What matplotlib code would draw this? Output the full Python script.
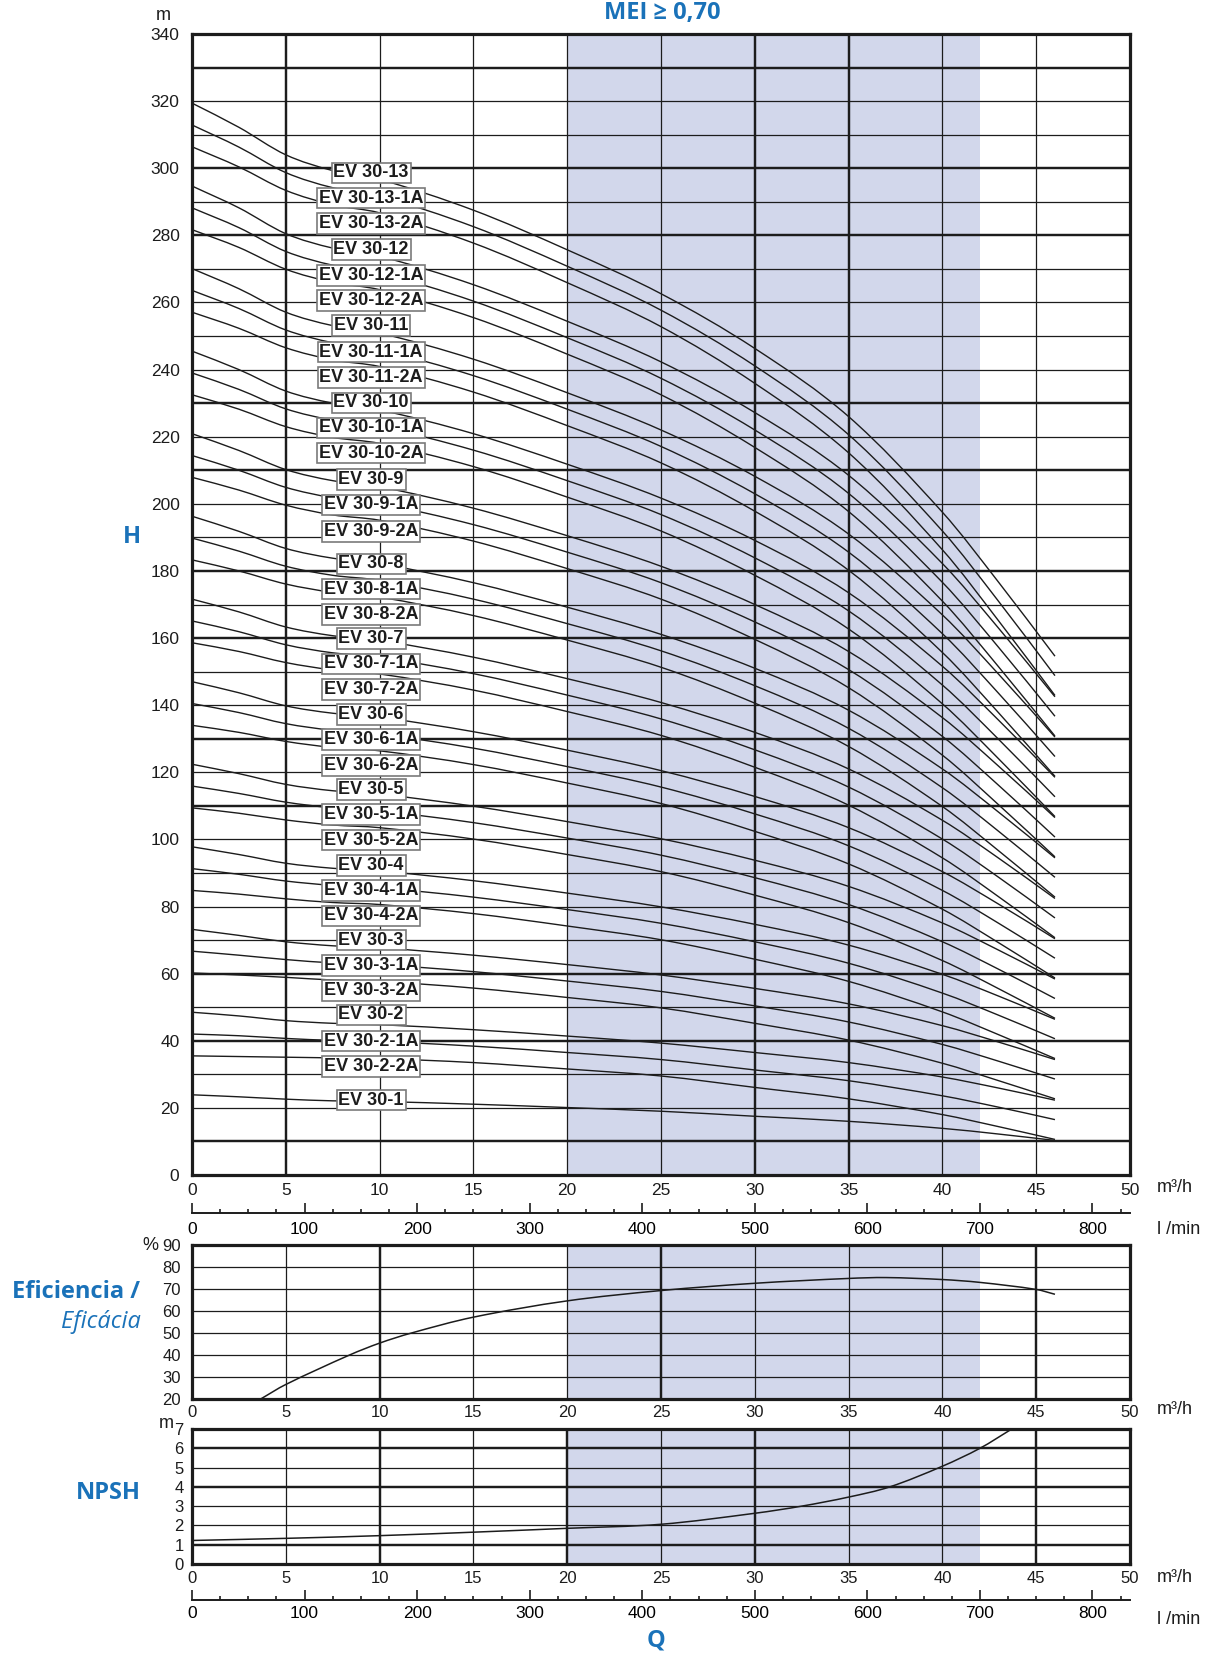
import numpy as np
import matplotlib.pyplot as plt
from matplotlib.path import Path
from matplotlib.patches import PathPatch

plt.rcParams['font.family'] = ['Liberation Sans', 'DejaVu Sans']

# --- data ---
# flow points (m3/h) at which every H curve was read
q_curve = [0, 2.5, 5, 7.5, 10, 15, 20, 25, 30, 35, 40, 43, 46]

curve_names = [
    'EV 30-13', 'EV 30-13-1A', 'EV 30-13-2A',
    'EV 30-12', 'EV 30-12-1A', 'EV 30-12-2A',
    'EV 30-11', 'EV 30-11-1A', 'EV 30-11-2A',
    'EV 30-10', 'EV 30-10-1A', 'EV 30-10-2A',
    'EV 30-9', 'EV 30-9-1A', 'EV 30-9-2A',
    'EV 30-8', 'EV 30-8-1A', 'EV 30-8-2A',
    'EV 30-7', 'EV 30-7-1A', 'EV 30-7-2A',
    'EV 30-6', 'EV 30-6-1A', 'EV 30-6-2A',
    'EV 30-5', 'EV 30-5-1A', 'EV 30-5-2A',
    'EV 30-4', 'EV 30-4-1A', 'EV 30-4-2A',
    'EV 30-3', 'EV 30-3-1A', 'EV 30-3-2A',
    'EV 30-2', 'EV 30-2-1A', 'EV 30-2-2A',
    'EV 30-1',
]

# head (m) of each curve at q_curve
head_curves = [
    [319.4, 312.2, 304.0, 299.3, 296.7, 287.5, 275.7, 262.6, 246.3, 226.0, 197.5, 176.6, 154.6],
    [312.9, 306.3, 298.7, 294.2, 291.7, 282.6, 270.8, 257.7, 241.1, 220.6, 191.9, 170.9, 148.8],
    [306.4, 300.4, 293.4, 289.1, 286.7, 277.7, 265.9, 252.8, 235.9, 215.2, 186.3, 165.1, 142.9],
    [294.7, 288.2, 280.5, 276.2, 273.8, 265.3, 254.4, 242.3, 227.2, 208.5, 182.2, 162.9, 142.5],
    [288.2, 282.3, 275.2, 271.1, 268.8, 260.4, 249.5, 237.4, 222.0, 203.1, 176.6, 157.2, 136.7],
    [281.7, 276.4, 269.9, 266.0, 263.8, 255.5, 244.6, 232.5, 216.8, 197.7, 171.0, 151.4, 130.8],
    [270.1, 264.1, 257.1, 253.1, 250.9, 243.1, 233.1, 222.0, 208.2, 191.0, 166.9, 149.2, 130.5],
    [263.6, 258.2, 251.8, 248.0, 245.9, 238.2, 228.2, 217.1, 203.0, 185.6, 161.3, 143.5, 124.7],
    [257.1, 252.3, 246.5, 242.9, 240.9, 233.3, 223.3, 212.2, 197.8, 180.2, 155.7, 137.7, 118.8],
    [245.5, 240.0, 233.6, 230.0, 228.0, 220.9, 211.8, 201.7, 189.1, 173.5, 151.6, 135.5, 118.5],
    [239.0, 234.1, 228.3, 224.9, 223.0, 216.0, 206.9, 196.8, 183.9, 168.1, 146.0, 129.8, 112.7],
    [232.5, 228.2, 223.0, 219.8, 218.0, 211.1, 202.0, 191.9, 178.7, 162.7, 140.4, 124.0, 106.8],
    [220.9, 215.9, 210.2, 206.9, 205.1, 198.7, 190.5, 181.4, 170.0, 156.0, 136.3, 121.8, 106.5],
    [214.4, 210.0, 204.9, 201.8, 200.1, 193.8, 185.6, 176.5, 164.8, 150.6, 130.7, 116.1, 100.7],
    [207.9, 204.1, 199.6, 196.7, 195.1, 188.9, 180.7, 171.6, 159.6, 145.2, 125.1, 110.3, 94.8],
    [196.3, 191.8, 186.7, 183.8, 182.2, 176.5, 169.2, 161.1, 151.0, 138.5, 121.0, 108.1, 94.5],
    [189.8, 185.9, 181.4, 178.7, 177.2, 171.6, 164.3, 156.2, 145.8, 133.1, 115.4, 102.4, 88.7],
    [183.3, 180.0, 176.1, 173.6, 172.2, 166.7, 159.4, 151.3, 140.6, 127.7, 109.8, 96.6, 82.8],
    [171.6, 167.8, 163.3, 160.7, 159.3, 154.3, 147.9, 140.8, 131.9, 121.0, 105.7, 94.4, 82.4],
    [165.1, 161.9, 158.0, 155.6, 154.3, 149.4, 143.0, 135.9, 126.7, 115.6, 100.1, 88.7, 76.6],
    [158.6, 156.0, 152.7, 150.5, 149.3, 144.5, 138.1, 131.0, 121.5, 110.2, 94.5, 82.9, 70.7],
    [147.0, 143.7, 139.8, 137.6, 136.4, 132.1, 126.6, 120.5, 112.8, 103.5, 90.4, 80.7, 70.4],
    [140.5, 137.8, 134.5, 132.5, 131.4, 127.2, 121.7, 115.6, 107.6, 98.1, 84.8, 75.0, 64.6],
    [134.0, 131.9, 129.2, 127.4, 126.4, 122.3, 116.8, 110.7, 102.4, 92.7, 79.2, 69.2, 58.7],
    [122.4, 119.6, 116.4, 114.5, 113.5, 109.9, 105.3, 100.2, 93.8, 86.0, 75.1, 67.0, 58.4],
    [115.9, 113.7, 111.1, 109.4, 108.5, 105.0, 100.4, 95.3, 88.6, 80.6, 69.5, 61.3, 52.6],
    [109.4, 107.8, 105.8, 104.3, 103.5, 100.1, 95.5, 90.4, 83.4, 75.2, 63.9, 55.5, 46.7],
    [97.8, 95.5, 92.9, 91.4, 90.6, 87.7, 84.0, 79.9, 74.7, 68.5, 59.8, 53.3, 46.4],
    [91.3, 89.6, 87.6, 86.3, 85.6, 82.8, 79.1, 75.0, 69.5, 63.1, 54.2, 47.6, 40.6],
    [84.8, 83.7, 82.3, 81.2, 80.6, 77.9, 74.2, 70.1, 64.3, 57.7, 48.6, 41.8, 34.7],
    [73.2, 71.4, 69.5, 68.3, 67.7, 65.5, 62.7, 59.6, 55.6, 51.0, 44.5, 39.6, 34.4],
    [66.7, 65.5, 64.2, 63.2, 62.7, 60.6, 57.8, 54.7, 50.4, 45.6, 38.9, 33.9, 28.6],
    [60.2, 59.6, 58.9, 58.1, 57.7, 55.7, 52.9, 49.8, 45.2, 40.2, 33.3, 28.1, 22.7],
    [48.5, 47.4, 46.0, 45.2, 44.8, 43.3, 41.4, 39.3, 36.5, 33.5, 29.2, 25.9, 22.3],
    [42.0, 41.5, 40.7, 40.1, 39.8, 38.4, 36.5, 34.4, 31.3, 28.1, 23.6, 20.2, 16.5],
    [35.5, 35.3, 35.1, 34.9, 34.7, 33.5, 31.6, 29.5, 26.1, 22.7, 18.0, 14.4, 10.6],
    [23.9, 23.3, 22.6, 22.1, 21.9, 21.1, 20.1, 19.0, 17.5, 16.0, 13.9, 12.2, 10.3],
]

# where the name boxes sit (m)
label_heads = [298.6, 291.1, 283.5, 275.7, 268.1, 260.6, 253.1, 245.2, 237.7,
               230.1, 222.6, 215.1, 207.2, 199.7, 191.8, 182.1, 174.6, 167.0,
               159.8, 152.3, 144.7, 137.2, 129.7, 122.1, 114.9, 107.4, 99.8,
               92.3, 84.8, 77.2, 70.0, 62.5, 54.9, 47.7, 39.9, 32.3, 22.3]
label_q = 9.55

q_eff = [3.66, 5, 8.4, 10, 11.7, 15, 20, 25, 30, 35, 37, 40, 42, 45, 46]
eff = [20, 26.6, 40, 45.4, 50, 57.2, 64.6, 69.3, 72.6, 74.8, 75.2, 74.3, 73.0, 69.8, 67.6]

q_npsh = [0, 5, 10, 15, 20, 25, 30, 32.5, 35, 37.2, 40, 42, 43.7]
npsh = [1.22, 1.33, 1.47, 1.65, 1.85, 2.06, 2.63, 3.0, 3.47, 4.0, 5.07, 6.0, 7.0]

mei_band = (20, 42)

# --- styling ---
INK = '#1c1c1c'
BLUE = '#1a72b9'
SHADE = '#d2d7eb'
THIN, THICK, FRAME = 0.9, 1.75, 2.3
W, HP = 1211, 1653
X0, X1 = 192, 1130


def fx(px):
    return px / W


def fy(py):
    return 1 - py / HP


def smooth_curve(ax, xs, ys, lw):
    # draw a smooth line through the read points (cubic Hermite pieces as Bezier)
    x = np.asarray(xs, float)
    y = np.asarray(ys, float)
    n = len(x)
    m = np.empty(n)
    m[0] = (y[1] - y[0]) / (x[1] - x[0])
    m[-1] = (y[-1] - y[-2]) / (x[-1] - x[-2])
    m[1:-1] = (y[2:] - y[:-2]) / (x[2:] - x[:-2])
    verts = [(x[0], y[0])]
    codes = [Path.MOVETO]
    for i in range(n - 1):
        h = x[i + 1] - x[i]
        verts += [(x[i] + h / 3, y[i] + m[i] * h / 3),
                  (x[i + 1] - h / 3, y[i + 1] - m[i + 1] * h / 3),
                  (x[i + 1], y[i + 1])]
        codes += [Path.CURVE4] * 3
    ax.add_patch(PathPatch(Path(verts, codes), fill=False, ec=INK, lw=lw, zorder=3,
                           capstyle='butt'))


def panel(top, bottom):
    return fig.add_axes([fx(X0), fy(bottom), fx(X1 - X0), (bottom - top) / HP])


def draw_grid(ax, vthick, vthin, hthick, hthin):
    for x in vthin:
        ax.axvline(x, color=INK, lw=THIN, zorder=1)
    for x in vthick:
        ax.axvline(x, color=INK, lw=THICK, zorder=1)
    for y in hthin:
        ax.axhline(y, color=INK, lw=THIN, zorder=1)
    for y in hthick:
        ax.axhline(y, color=INK, lw=THICK, zorder=1)
    for s in ax.spines.values():
        s.set_linewidth(FRAME)
        s.set_color(INK)
        s.set_zorder(5)
    ax.axvspan(*mei_band, color=SHADE, lw=0, zorder=0)


def lmin_axis(ypx, pad):
    a = fig.add_axes([fx(X0), fy(ypx), fx(X1 - X0), 0.0001])
    a.set_xlim(0, 50 * 1000 / 60)
    a.set_ylim(0, 1)
    for s in ['top', 'left', 'right']:
        a.spines[s].set_visible(False)
    a.spines['bottom'].set_linewidth(1.4)
    a.spines['bottom'].set_color(INK)
    a.patch.set_visible(False)
    a.set_yticks([])
    a.set_xticks(range(0, 801, 100))
    a.set_xticks(np.arange(0, 834, 25), minor=True)
    a.tick_params(axis='x', which='major', direction='in', length=7, width=1.2,
                  color=INK, labelsize=12.5, pad=pad)
    a.tick_params(axis='x', which='minor', direction='in', length=3, width=1.2, color=INK)


fig = plt.figure(figsize=(W / 100, HP / 100), dpi=100)

# --- H(Q) ---
ax = panel(34, 1175)
ax.set_xlim(0, 50)
ax.set_ylim(0, 340)
draw_grid(ax, [5, 30, 35], [10, 15, 20, 25, 40, 45],
          [10, 40, 60, 110, 130, 160, 180, 210, 230, 280, 300, 330],
          [20, 30, 50, 70, 80, 90, 100, 120, 140, 150, 170, 190, 200, 220, 240,
           250, 260, 270, 290, 310, 320])
for heads in head_curves:
    smooth_curve(ax, q_curve, heads, 1.0)
for name, y in zip(curve_names, label_heads):
    ax.text(label_q, y, name, ha='center', va='center', fontsize=13, fontweight='bold',
            color=INK, zorder=6,
            bbox=dict(boxstyle='square,pad=0.1', fc='white', ec='#7a7a7a', lw=1.2))
ax.set_xticks(range(0, 51, 5))
ax.set_yticks(range(0, 341, 20))
ax.tick_params(length=0, labelsize=12.5, colors=INK)
ax.tick_params(axis='y', pad=9)
ax.tick_params(axis='x', pad=6)

lmin_axis(1213, 6.5)

# --- efficiency ---
ae = panel(1245, 1399)
ae.set_xlim(0, 50)
ae.set_ylim(20, 90)
draw_grid(ae, [10, 25, 45], [5, 15, 20, 30, 35, 40], [], [30, 40, 50, 60, 70, 80])
smooth_curve(ae, q_eff, eff, 1.1)
ae.set_xticks(range(0, 51, 5))
ae.set_yticks(range(20, 91, 10))
ae.tick_params(length=0, labelsize=12, colors=INK)
ae.tick_params(axis='y', pad=8)
ae.tick_params(axis='x', pad=4.5)

# --- NPSH ---
an = panel(1429, 1564)
an.set_xlim(0, 50)
an.set_ylim(0, 7)
draw_grid(an, [10, 20, 30, 45], [5, 15, 25, 35, 40], [1, 4, 6], [2, 3, 5])
smooth_curve(an, q_npsh, npsh, 1.1)
an.set_xticks(range(0, 51, 5))
an.set_yticks(range(0, 8))
an.tick_params(length=0, labelsize=12, colors=INK)
an.tick_params(axis='y', pad=6)
an.tick_params(axis='x', pad=5)

lmin_axis(1600, 4.5)

# --- units and titles ---
unit = dict(fontsize=13, color=INK, va='center', ha='left')
fig.text(fx(1157), fy(1188), 'm³/h', **unit)
fig.text(fx(1157), fy(1230), 'l /min', **unit)
fig.text(fx(1157), fy(1410), 'm³/h', **unit)
fig.text(fx(1157), fy(1578), 'm³/h', **unit)
fig.text(fx(1157), fy(1619), 'l /min', **unit)
fig.text(fx(163), fy(16), 'm', fontsize=13, color=INK, ha='center', va='center')
fig.text(fx(150), fy(1246), '%', fontsize=13, color=INK, ha='center', va='center')
fig.text(fx(166), fy(1424), 'm', fontsize=13, color=INK, ha='center', va='center')

head = dict(family=['Open Sans', 'DejaVu Sans'], fontsize=17, fontweight='bold',
            color=BLUE, va='center')
fig.text(fx(662), fy(13), 'MEI ≥ 0,70', ha='center', **head)
fig.text(fx(132), fy(537), 'H', ha='center', **head)
fig.text(fx(140), fy(1292), 'Eficiencia /', ha='right', **head)
fig.text(fx(141), fy(1322), 'Eficácia', ha='right', family=['Open Sans', 'DejaVu Sans'],
         fontsize=17, style='italic', color=BLUE, va='center')
fig.text(fx(108), fy(1493), 'NPSH', ha='center', **head)
fig.text(fx(656), fy(1640), 'Q', ha='center', **head)

fig.savefig('out.png', dpi=100)
